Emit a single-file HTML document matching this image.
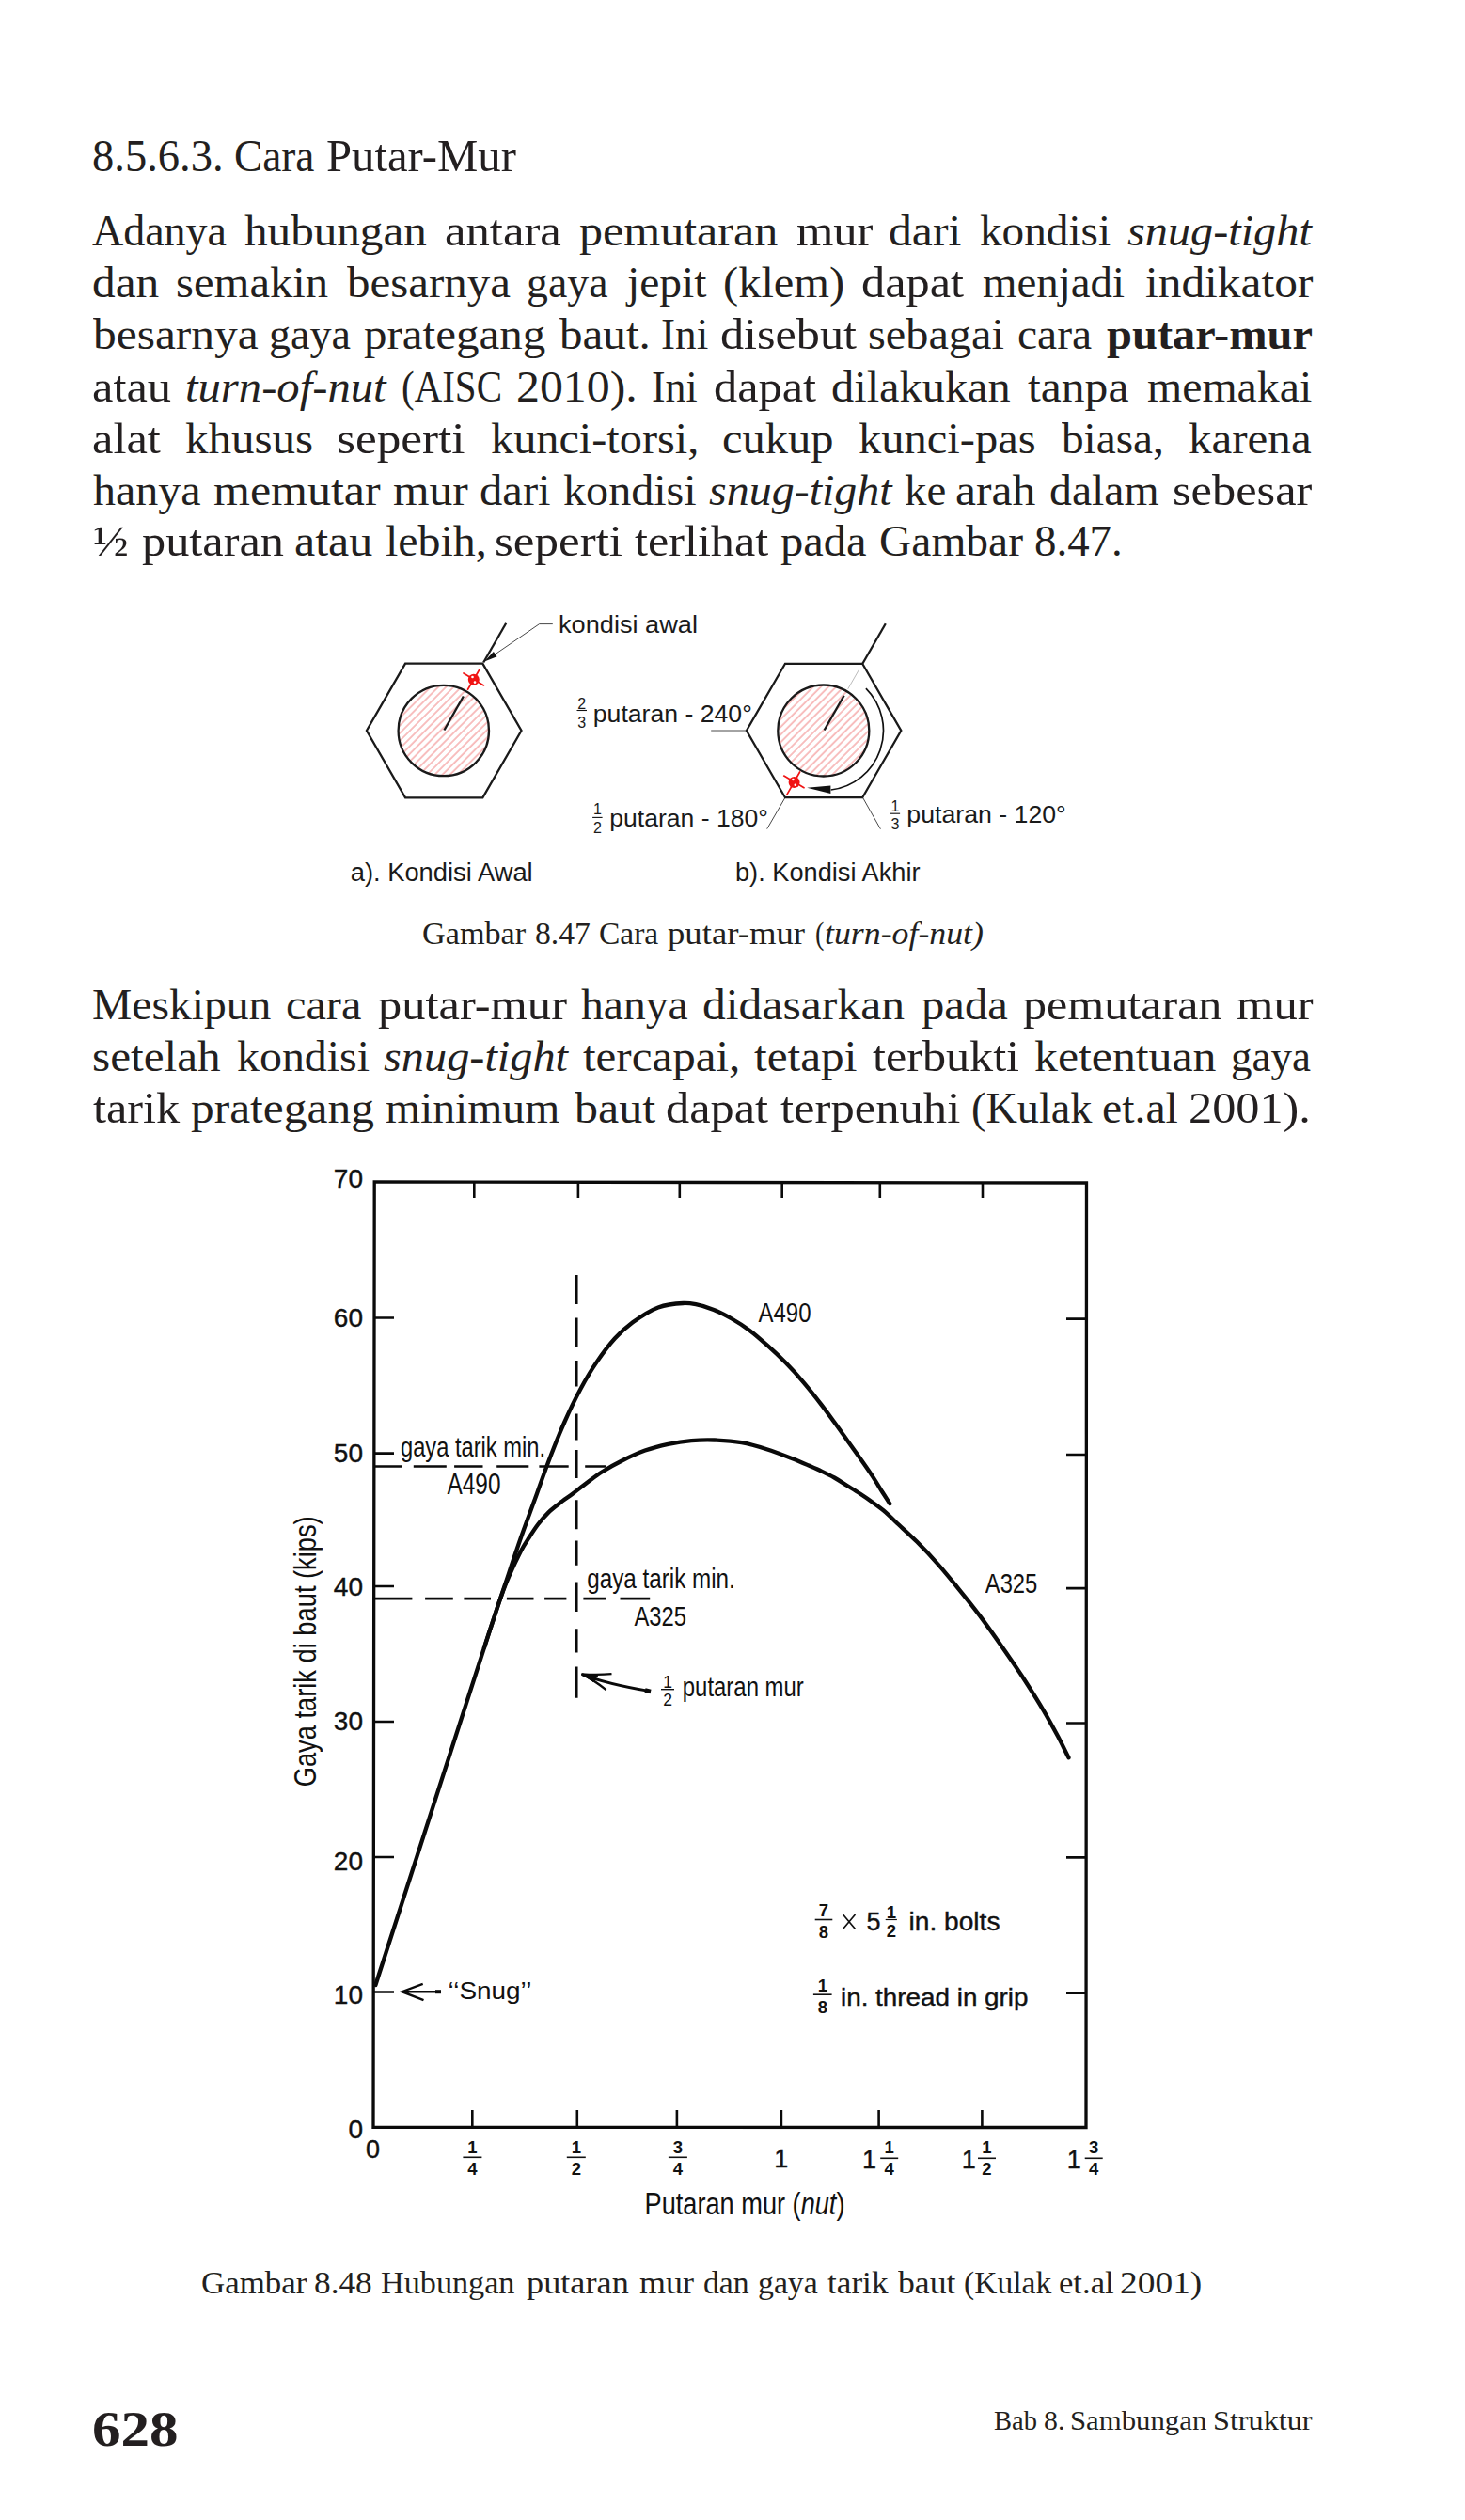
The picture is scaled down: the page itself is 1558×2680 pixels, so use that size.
<!DOCTYPE html>
<html>
<head>
<meta charset="utf-8">
<style>
html,body{margin:0;padding:0;background:#fff;}
body{width:1558px;height:2680px;position:relative;overflow:hidden;color:#231f20;}
.ln{position:absolute;left:99px;font-family:"Liberation Serif",serif;font-size:46px;line-height:56px;white-space:nowrap;transform-origin:0 0;}
.j{width:1217.84px;text-align:justify;text-align-last:justify;transform:scaleX(1.065);}
.n{transform:scaleX(1.065);}
.wl{position:absolute;left:0;width:1558px;height:56px;font-family:"Liberation Serif",serif;font-size:46px;line-height:56px;}
.wl span{position:absolute;top:0;white-space:nowrap;transform-origin:0 0;}
.cap{position:absolute;font-family:"Liberation Serif",serif;font-size:33px;line-height:40px;white-space:nowrap;transform-origin:0 0;}
svg{position:absolute;left:0;top:0;}
svg text{font-family:"Liberation Sans",sans-serif;}
</style>
</head>
<body>
<div class="wl" style="top:137.7px;font-size:47.5px"><span style="left:98.0px;transform:scaleX(0.9792)">8.5.6.3.</span><span style="left:248.8px;transform:scaleX(0.9524)">Cara</span><span style="left:347.2px;transform:scaleX(1.0252)">Putar-Mur</span></div>
<div class="wl" style="top:218px"><span style="left:97.9px;transform:scaleX(0.9997)">Adanya</span><span style="left:260.1px;transform:scaleX(1.0683)">hubungan</span><span style="left:473.1px;transform:scaleX(1.1025)">antara</span><span style="left:616.1px;transform:scaleX(1.0879)">pemutaran</span><span style="left:846.7px;transform:scaleX(1.0992)">mur</span><span style="left:944.7px;transform:scaleX(1.0798)">dari</span><span style="left:1042.0px;transform:scaleX(1.0261)">kondisi</span><span style="left:1199.3px;transform:scaleX(1.0496)"><i>snug-tight</i></span></div>
<div class="wl" style="top:273.4px"><span style="left:97.5px;transform:scaleX(1.0731)">dan</span><span style="left:186.9px;transform:scaleX(1.0578)">semakin</span><span style="left:369.3px;transform:scaleX(1.0647)">besarnya</span><span style="left:560.4px;transform:scaleX(0.9963)">gaya</span><span style="left:666.7px;transform:scaleX(1.0336)">jepit</span><span style="left:768.5px;transform:scaleX(1.0537)">(klem)</span><span style="left:915.9px;transform:scaleX(1.0938)">dapat</span><span style="left:1045.4px;transform:scaleX(1.0197)">menjadi</span><span style="left:1218.4px;transform:scaleX(1.0739)">indikator</span></div>
<div class="wl" style="top:328.4px"><span style="left:99.0px;transform:scaleX(1.0751)">besarnya</span><span style="left:286.1px;transform:scaleX(1.0021)">gaya</span><span style="left:386.9px;transform:scaleX(1.0653)">prategang</span><span style="left:594.7px;transform:scaleX(1.0681)">baut.</span><span style="left:703.0px;transform:scaleX(0.9834)">Ini</span><span style="left:766.1px;transform:scaleX(1.0909)">disebut</span><span style="left:922.6px;transform:scaleX(1.0503)">sebagai</span><span style="left:1082.4px;transform:scaleX(1.0339)">cara</span><span style="left:1176.6px;transform:scaleX(1.0539)"><b>putar-mur</b></span></div>
<div class="wl" style="top:383.6px"><span style="left:97.9px;transform:scaleX(1.0964)">atau</span><span style="left:197.2px;transform:scaleX(1.0582)"><i>turn-of-nut</i></span><span style="left:427.3px;transform:scaleX(0.8906)">(AISC</span><span style="left:548.6px;transform:scaleX(1.0838)">2010).</span><span style="left:693.3px;transform:scaleX(0.9530)">Ini</span><span style="left:759.3px;transform:scaleX(1.0938)">dapat</span><span style="left:884.3px;transform:scaleX(1.0516)">dilakukan</span><span style="left:1093.0px;transform:scaleX(1.0787)">tanpa</span><span style="left:1219.6px;transform:scaleX(1.0393)">memakai</span></div>
<div class="wl" style="top:438.8px"><span style="left:97.5px;transform:scaleX(1.0973)">alat</span><span style="left:197.0px;transform:scaleX(1.0654)">khusus</span><span style="left:358.1px;transform:scaleX(1.1139)">seperti</span><span style="left:521.5px;transform:scaleX(1.0495)">kunci-torsi,</span><span style="left:767.6px;transform:scaleX(1.0533)">cukup</span><span style="left:912.5px;transform:scaleX(1.0549)">kunci-pas</span><span style="left:1128.8px;transform:scaleX(1.0269)">biasa,</span><span style="left:1263.8px;transform:scaleX(1.0659)">karena</span></div>
<div class="wl" style="top:494px"><span style="left:98.6px;transform:scaleX(1.0437)">hanya</span><span style="left:227.0px;transform:scaleX(1.0866)">memutar</span><span style="left:417.9px;transform:scaleX(1.0775)">mur</span><span style="left:509.8px;transform:scaleX(1.0569)">dari</span><span style="left:599.2px;transform:scaleX(1.0462)">kondisi</span><span style="left:753.7px;transform:scaleX(1.0432)"><i>snug-tight</i></span><span style="left:962.0px;transform:scaleX(1.0190)">ke</span><span style="left:1016.1px;transform:scaleX(1.0774)">arah</span><span style="left:1115.9px;transform:scaleX(1.0384)">dalam</span><span style="left:1247.2px;transform:scaleX(1.0958)">sebesar</span></div>
<div class="wl" style="top:548.1px"><span style="left:99.0px;transform:scaleX(1.0938)">½</span><span style="left:150.8px;transform:scaleX(1.0947)">putaran</span><span style="left:313.1px;transform:scaleX(1.0871)">atau</span><span style="left:410.1px;transform:scaleX(1.0418)">lebih,</span><span style="left:526.2px;transform:scaleX(1.1090)">seperti</span><span style="left:675.3px;transform:scaleX(1.0912)">terlihat</span><span style="left:830.1px;transform:scaleX(1.0553)">pada</span><span style="left:935.2px;transform:scaleX(1.0325)">Gambar</span><span style="left:1100.3px;transform:scaleX(1.0192)">8.47.</span></div>
<div class="wl" style="top:1041.1px"><span style="left:98.0px;transform:scaleX(1.0339)">Meskipun</span><span style="left:304.1px;transform:scaleX(1.0499)">cara</span><span style="left:402.0px;transform:scaleX(1.0980)">putar-mur</span><span style="left:618.4px;transform:scaleX(1.0355)">hanya</span><span style="left:746.9px;transform:scaleX(1.0794)">didasarkan</span><span style="left:980.1px;transform:scaleX(1.0577)">pada</span><span style="left:1088.2px;transform:scaleX(1.0890)">pemutaran</span><span style="left:1315.2px;transform:scaleX(1.1006)">mur</span></div>
<div class="wl" style="top:1096.2px"><span style="left:97.5px;transform:scaleX(1.0701)">setelah</span><span style="left:251.7px;transform:scaleX(1.0410)">kondisi</span><span style="left:407.6px;transform:scaleX(1.0507)"><i>snug-tight</i></span><span style="left:619.5px;transform:scaleX(1.0650)">tercapai,</span><span style="left:801.6px;transform:scaleX(1.0711)">tetapi</span><span style="left:928.2px;transform:scaleX(1.0907)">terbukti</span><span style="left:1100.2px;transform:scaleX(1.0821)">ketentuan</span><span style="left:1309.4px;transform:scaleX(0.9787)">gaya</span></div>
<div class="wl" style="top:1150.7px"><span style="left:98.6px;transform:scaleX(1.0950)">tarik</span><span style="left:202.6px;transform:scaleX(1.0747)">prategang</span><span style="left:410.1px;transform:scaleX(1.0351)">minimum</span><span style="left:610.6px;transform:scaleX(1.0867)">baut</span><span style="left:707.9px;transform:scaleX(1.0938)">dapat</span><span style="left:829.5px;transform:scaleX(1.1010)">terpenuhi</span><span style="left:1032.6px;transform:scaleX(1.0061)">(Kulak</span><span style="left:1172.0px;transform:scaleX(1.0379)">et.al</span><span style="left:1263.5px;transform:scaleX(1.0926)">2001).</span></div>
<div class="wl" style="top:973px;font-size:33px;line-height:40px"><span style="left:449.1px;transform:scaleX(1.0367)">Gambar</span><span style="left:568.6px;transform:scaleX(1.0210)">8.47</span><span style="left:637.0px;transform:scaleX(1.0151)">Cara</span><span style="left:710.3px;transform:scaleX(1.1124)">putar-mur</span><span style="left:867.1px;transform:scaleX(0.8596)">(</span><span style="left:877.3px;transform:scaleX(1.0845)"><i>turn-of-nut)</i></span></div>
<div class="wl" style="top:2408px;font-size:33px;line-height:40px"><span style="left:214.4px;transform:scaleX(1.0576)">Gambar</span><span style="left:334.4px;transform:scaleX(1.0690)">8.48</span><span style="left:404.5px;transform:scaleX(1.0361)">Hubungan</span><span style="left:560.2px;transform:scaleX(1.0995)">putaran</span><span style="left:680.1px;transform:scaleX(1.0901)">mur</span><span style="left:748.2px;transform:scaleX(1.0207)">dan</span><span style="left:805.9px;transform:scaleX(1.0232)">gaya</span><span style="left:880.0px;transform:scaleX(1.0666)">tarik</span><span style="left:954.6px;transform:scaleX(1.0812)">baut</span><span style="left:1024.8px;transform:scaleX(1.0166)">(Kulak</span><span style="left:1125.8px;transform:scaleX(1.0494)">et.al</span><span style="left:1190.9px;transform:scaleX(1.1339)">2001)</span></div>
<div class="cap" style="left:97.5px;top:2553px;font-size:53px;font-weight:bold;line-height:60px;transform:scaleX(1.152)">628</div>
<div class="wl" style="top:2554px;font-size:29px;line-height:40px"><span style="left:1056.7px;transform:scaleX(0.9834)">Bab</span><span style="left:1110.3px;transform:scaleX(1.0285)">8.</span><span style="left:1137.6px;transform:scaleX(1.0612)">Sambungan</span><span style="left:1289.9px;transform:scaleX(1.1101)">Struktur</span></div>
<svg width="1558" height="2680" viewBox="0 0 1558 2680">
<defs><pattern id="hatch" width="5.75" height="6" patternUnits="userSpaceOnUse" patternTransform="rotate(45)"><line x1="1" y1="0" x2="1" y2="6" stroke="#f6abab" stroke-width="1.5"/></pattern></defs>
<g fill="none" stroke="#1a1a1a" stroke-width="2.3">
<polygon points="389.9,777 431.05,705.7 513.35,705.7 554.5,777 513.35,848.3 431.05,848.3"/>
<circle cx="471.8" cy="777" r="48.2" fill="url(#hatch)"/>
<line x1="472.4" y1="776.5" x2="492.9" y2="740.5"/>
<line x1="514.2" y1="704.5" x2="538.2" y2="662.7"/>
<polygon points="793.9,777 835,705.8 917.2,705.8 958.3,777 917.2,848.2 835,848.2"/>
<circle cx="875.8" cy="777" r="48.5" fill="url(#hatch)"/>
<line x1="876.6" y1="776.5" x2="897.6" y2="739.7"/>
<line x1="917.5" y1="705.5" x2="941.8" y2="663.2"/>
</g>
<g fill="none" stroke="#333" stroke-width="0.9">
<polyline points="587.8,663.6 573.6,663.6 520,700.3"/>
<line x1="756.2" y1="777" x2="793.9" y2="777"/>
<line x1="834.5" y1="849" x2="815.7" y2="881.6"/>
<line x1="917.7" y1="848.5" x2="936.4" y2="881.7"/>
</g>
<line x1="913.4" y1="712.4" x2="901.7" y2="732.8" stroke="#bbb" stroke-width="1"/>
<polygon points="515.1,703.6 528.5,698.3 524.9,693.1" fill="#111"/>
<path d="M920.9 732.1 A63.5 63.5 0 0 1 883.7 840" fill="none" stroke="#111" stroke-width="1.7"/>
<polygon points="858.2,837.7 883.4,835.6 883.4,844.1" fill="#111"/>
<g stroke="#f01414" stroke-width="1.7" stroke-linecap="round">
<line x1="493" y1="716" x2="514.5" y2="728.9"/><line x1="510.1" y1="711.8" x2="497.5" y2="733.3"/>
<line x1="833.7" y1="825.1" x2="855" y2="837.7"/><line x1="850.6" y1="821" x2="836.7" y2="845.3"/>
</g>
<circle cx="503.8" cy="722.8" r="6" fill="#f01414"/><circle cx="844.6" cy="831.9" r="6" fill="#f01414"/>
<circle cx="502.5" cy="720" r="1.3" fill="#fff"/><circle cx="505" cy="725.6" r="1.3" fill="#fff"/>
<circle cx="843.4" cy="829" r="1.3" fill="#fff"/><circle cx="845.8" cy="834.7" r="1.3" fill="#fff"/>
<g fill="#1a1a1a">
<text x="594" y="673" font-size="25.5" textLength="148" lengthAdjust="spacingAndGlyphs">kondisi awal</text>
<text x="630.8" y="767.8" font-size="26.5" textLength="169" lengthAdjust="spacingAndGlyphs">putaran - 240°</text>
<text x="648.3" y="879" font-size="26.5" textLength="168.5" lengthAdjust="spacingAndGlyphs">putaran - 180°</text>
<text x="964.3" y="875" font-size="26.5" textLength="169.5" lengthAdjust="spacingAndGlyphs">putaran - 120°</text>
<text x="372.7" y="936.5" font-size="27" textLength="194" lengthAdjust="spacingAndGlyphs">a). Kondisi Awal</text>
<text x="782" y="936.5" font-size="27" textLength="196.5" lengthAdjust="spacingAndGlyphs">b). Kondisi Akhir</text>

<text x="618.8" y="754.3" font-size="16" text-anchor="middle" style="">2</text><line x1="613.5" y1="755.5" x2="624.0" y2="755.5" stroke="#111" stroke-width="1.1"/><text x="618.8" y="773.6" font-size="16" text-anchor="middle" style="">3</text>
<text x="635.4" y="866.2" font-size="16" text-anchor="middle" style="">1</text><line x1="630.1" y1="869.4" x2="640.6" y2="869.4" stroke="#111" stroke-width="1.1"/><text x="635.4" y="885.6" font-size="16" text-anchor="middle" style="">2</text>
<text x="951.9" y="862.8" font-size="16" text-anchor="middle" style="">1</text><line x1="946.6" y1="865.2" x2="957.1" y2="865.2" stroke="#111" stroke-width="1.1"/><text x="951.9" y="882" font-size="16" text-anchor="middle" style="">3</text>
</g>
<g fill="none" stroke="#0a0a0a" stroke-linecap="butt">
<polygon points="398.2,1257 1155.5,1258 1155,2262.5 397,2262.4" stroke-width="3.3"/>
<path d="M504.3 1257V1274 M614.9 1257V1274 M722.8 1257V1274 M831.7 1257V1274 M935.8 1257V1274 M1045 1257V1274 M502.3 2262V2244 M613.8 2262V2244 M719.9 2262V2244 M830.9 2262V2244 M934.6 2262V2244 M1044.4 2262V2244 M397 1401.5H419 M397 1545.6H419 M397 1687H419 M397 1831H419 M397 1975H419 M397 2118.5H419 M1155 1402.6H1134 M1155 1547H1134 M1155 1689.1H1134 M1155 1832.5H1134 M1155 1975.4H1134 M1155 2119.8H1134" stroke-width="2.6"/>
<path d="M398 1559.5H427 M439.8 1559.5H474.8 M483.1 1559.5H513.5 M528.2 1559.5H562.3 M573.4 1559.5H604.7 M622.2 1559.5H644.5 M398.2 1700.1H438.4 M452.1 1700.1H481.8 M493.4 1700.1H522 M538.9 1700.1H567.5 M579.1 1700.1H602.4 M620.4 1700.1H644.7 M659.5 1700.1H691.2 M613.2 1356.1V1387.1 M613.2 1401.5V1432.5 M613.2 1446.9V1474.4 M613.2 1503.6V1531.6 M613.2 1542.1V1572.1 M613.2 1595.2V1626.3 M613.2 1638.6V1664.8 M613.2 1682.5V1714.1 M613.2 1732.3V1757.5 M613.2 1772.5V1805.7" stroke-width="2.7"/>
<path d="M399.4 2111 L521 1733.6 C526.7 1716.3 531.5 1701.8 537.0 1685.5 C542.7 1668.5 548.7 1650.2 554.6 1633.5 C560.1 1617.9 566.0 1602.4 571.0 1588.5 C575.3 1576.5 578.6 1566.8 583.1 1555.0 C588.2 1541.6 594.3 1525.9 600.3 1512.5 C605.8 1500.0 611.5 1488.1 617.5 1477.0 C623.0 1466.8 628.5 1457.4 634.7 1448.4 C640.7 1439.6 647.1 1430.8 653.8 1423.5 C659.9 1416.9 665.7 1411.6 672.9 1406.3 C680.9 1400.5 690.7 1393.8 700.0 1390.4 C708.6 1387.3 719.2 1386.3 726.6 1386.0 C731.8 1385.8 735.2 1386.3 740.0 1387.2 C745.9 1388.3 752.8 1390.4 759.1 1392.9 C765.6 1395.5 771.9 1398.9 778.2 1402.5 C784.7 1406.2 791.1 1410.3 797.3 1414.9 C803.9 1419.8 810.2 1425.5 816.5 1431.2 C823.0 1437.0 829.3 1442.9 835.6 1449.3 C842.1 1455.9 848.5 1463.0 854.7 1470.3 C861.2 1477.9 868.0 1486.6 873.7 1494.1 C878.7 1500.6 882.8 1506.4 887.3 1512.6 C891.9 1518.9 896.4 1525.3 901.0 1531.7 C905.5 1538.1 910.1 1544.4 914.6 1550.8 C919.2 1557.3 924.1 1564.3 928.3 1570.6 C932.0 1576.3 935.3 1581.9 938.5 1587.0 C941.3 1591.4 943.7 1595.1 946.3 1599.2" stroke-width="4.3" stroke-linejoin="round" stroke-linecap="round"/>
<path d="M515 1752.2 C519.2 1739.2 522.9 1727.8 526.0 1718.3 C528.3 1711.4 529.9 1706.4 532.0 1700.5 C534.1 1694.6 536.3 1688.6 538.5 1683.0 C540.6 1677.8 542.8 1672.8 545.0 1668.0 C547.0 1663.6 549.0 1659.5 551.0 1655.5 C552.8 1651.8 554.5 1648.4 556.5 1645.0 C558.5 1641.6 560.5 1638.6 562.8 1635.0 C565.6 1630.7 568.9 1625.4 572.3 1621.0 C575.7 1616.6 579.4 1612.3 583.2 1608.6 C586.9 1605.0 590.7 1602.2 594.8 1599.0 C599.1 1595.6 603.8 1592.5 608.5 1589.0 C613.5 1585.2 618.8 1580.9 624.0 1577.0 C629.3 1573.1 634.2 1569.2 640.0 1565.5 C646.5 1561.4 653.9 1557.2 661.4 1553.5 C669.2 1549.6 677.7 1545.6 686.0 1542.6 C694.1 1539.7 702.3 1537.6 710.6 1535.8 C718.7 1534.1 727.0 1532.8 735.2 1532.1 C743.4 1531.4 751.2 1531.2 759.7 1531.5 C769.0 1531.8 779.3 1532.5 788.7 1534.2 C797.9 1535.8 806.6 1538.5 815.4 1541.3 C824.3 1544.1 834.0 1547.9 842.0 1551.0 C848.6 1553.6 854.4 1556.1 860.0 1558.5 C864.9 1560.6 869.2 1562.4 873.7 1564.6 C878.3 1566.8 882.8 1569.0 887.3 1571.5 C891.9 1574.1 896.4 1577.2 901.0 1580.0 C905.5 1582.8 910.0 1585.5 914.6 1588.5 C919.4 1591.6 924.4 1595.1 929.0 1598.5 C933.5 1601.7 937.9 1604.9 941.9 1608.3 C945.7 1611.6 948.3 1614.5 952.5 1618.5 C958.6 1624.3 967.6 1632.2 975.0 1639.6 C982.6 1647.2 990.2 1655.2 997.6 1663.6 C1005.2 1672.2 1012.7 1681.4 1020.1 1690.6 C1027.7 1699.9 1035.2 1709.3 1042.6 1719.1 C1050.2 1729.3 1057.7 1740.0 1065.2 1750.7 C1072.8 1761.5 1080.3 1772.4 1087.7 1783.7 C1095.3 1795.4 1103.6 1808.6 1110.2 1819.8 C1115.8 1829.4 1120.6 1838.2 1125.2 1846.8 C1129.3 1854.6 1132.7 1861.8 1136.5 1869.3" stroke-width="4.3" stroke-linejoin="round" stroke-linecap="round"/>
<path d="M468.5 2118.2H428 M449.7 2109.9 L427.5 2118.2 L450.5 2127.2" stroke-width="2.4"/>
<path d="M463 2118.2H469" stroke-width="4"/>
<path d="M691.6 1798.7 C670 1795 640 1789 619 1780.6" stroke-width="2.8"/>
<path d="M650.5 1780.2 Q636 1781.5 618.5 1780.4 Q632 1787 644.6 1797.1" stroke-width="2.3"/>
<path d="M618.5 1780.4 L636 1781.6 L631 1788.5 Z" fill="#0a0a0a" stroke-width="1"/>
<path d="M686 1797.5 L692 1799" stroke-width="4.5"/>
</g>
<g fill="#111">
<text x="386" y="1263.1" font-size="28" text-anchor="end" stroke="#111" stroke-width="0.4">70</text>
<text x="386" y="1410.5" font-size="28" text-anchor="end" stroke="#111" stroke-width="0.4">60</text>
<text x="386" y="1555" font-size="28" text-anchor="end" stroke="#111" stroke-width="0.4">50</text>
<text x="386" y="1697" font-size="28" text-anchor="end" stroke="#111" stroke-width="0.4">40</text>
<text x="386" y="1840.3" font-size="28" text-anchor="end" stroke="#111" stroke-width="0.4">30</text>
<text x="386" y="1988.5" font-size="28" text-anchor="end" stroke="#111" stroke-width="0.4">20</text>
<text x="386" y="2131" font-size="28" text-anchor="end" stroke="#111" stroke-width="0.4">10</text>
<text x="386" y="2274.2" font-size="28" text-anchor="end" stroke="#111" stroke-width="0.4">0</text>
<text x="396.6" y="2294.5" font-size="27" text-anchor="middle" stroke="#111" stroke-width="0.4">0</text>
<text x="830.7" y="2305" font-size="27" text-anchor="middle" stroke="#111" stroke-width="0.4">1</text>
<text x="502.4" y="2289.5" font-size="18.5" text-anchor="middle" style="font-weight:bold;">1</text><line x1="492.4" y1="2294.3" x2="512.4" y2="2294.3" stroke="#111" stroke-width="1.6"/><text x="502.4" y="2313" font-size="18.5" text-anchor="middle" style="font-weight:bold;">4</text>
<text x="612.8" y="2289.5" font-size="18.5" text-anchor="middle" style="font-weight:bold;">1</text><line x1="602.8" y1="2294.3" x2="622.8" y2="2294.3" stroke="#111" stroke-width="1.6"/><text x="612.8" y="2313" font-size="18.5" text-anchor="middle" style="font-weight:bold;">2</text>
<text x="720.9" y="2289.5" font-size="18.5" text-anchor="middle" style="font-weight:bold;">3</text><line x1="710.9" y1="2294.3" x2="730.9" y2="2294.3" stroke="#111" stroke-width="1.6"/><text x="720.9" y="2313" font-size="18.5" text-anchor="middle" style="font-weight:bold;">4</text>
<text x="924.5" y="2305.5" font-size="27" text-anchor="middle" stroke="#111" stroke-width="0.4">1</text>
<text x="945.7" y="2289.5" font-size="18.5" text-anchor="middle" style="font-weight:bold;">1</text><line x1="936.2" y1="2295.3" x2="955.2" y2="2295.3" stroke="#111" stroke-width="1.6"/><text x="945.7" y="2313" font-size="18.5" text-anchor="middle" style="font-weight:bold;">4</text>
<text x="1030.3" y="2305.5" font-size="27" text-anchor="middle" stroke="#111" stroke-width="0.4">1</text>
<text x="1049.5" y="2289.5" font-size="18.5" text-anchor="middle" style="font-weight:bold;">1</text><line x1="1040.0" y1="2295.3" x2="1059.0" y2="2295.3" stroke="#111" stroke-width="1.6"/><text x="1049.5" y="2313" font-size="18.5" text-anchor="middle" style="font-weight:bold;">2</text>
<text x="1142.3" y="2305.5" font-size="27" text-anchor="middle" stroke="#111" stroke-width="0.4">1</text>
<text x="1163.2" y="2289.5" font-size="18.5" text-anchor="middle" style="font-weight:bold;">3</text><line x1="1153.7" y1="2295.3" x2="1172.7" y2="2295.3" stroke="#111" stroke-width="1.6"/><text x="1163.2" y="2313" font-size="18.5" text-anchor="middle" style="font-weight:bold;">4</text>
<text x="426" y="1548.5" font-size="29.5" textLength="154" lengthAdjust="spacingAndGlyphs">gaya tarik min.</text>
<text x="475.5" y="1588.8" font-size="31.3" textLength="57" lengthAdjust="spacingAndGlyphs">A490</text>
<text x="624.3" y="1689.1" font-size="29.5" textLength="157.5" lengthAdjust="spacingAndGlyphs">gaya tarik min.</text>
<text x="674.5" y="1728.5" font-size="30.4" textLength="55.5" lengthAdjust="spacingAndGlyphs">A325</text>
<text x="806.5" y="1406.4" font-size="30.4" textLength="56" lengthAdjust="spacingAndGlyphs">A490</text>
<text x="1047.8" y="1694.4" font-size="30.4" textLength="55.5" lengthAdjust="spacingAndGlyphs">A325</text>
<text x="710" y="1794.5" font-size="17.5" text-anchor="middle" style="">1</text><line x1="703.0" y1="1796.7" x2="717.0" y2="1796.7" stroke="#111" stroke-width="1.4"/><text x="710" y="1814" font-size="17.5" text-anchor="middle" style="">2</text>
<text x="725.8" y="1803.8" font-size="29.5" textLength="129" lengthAdjust="spacingAndGlyphs">putaran mur</text>
<text x="685.5" y="2354.5" font-size="32.5" textLength="213" lengthAdjust="spacingAndGlyphs">Putaran mur (<tspan font-style="italic">nut</tspan>)</text>
<text transform="translate(335.6 1900.3) rotate(-90)" x="0" y="0" font-size="33.5" textLength="288" lengthAdjust="spacingAndGlyphs">Gaya tarik di baut (kips)</text>
<text x="476.5" y="2125.6" font-size="26" textLength="89" lengthAdjust="spacingAndGlyphs">‘‘Snug’’</text>
<text x="876" y="2037.9" font-size="18.5" text-anchor="middle" style="font-weight:bold;">7</text><line x1="866.7" y1="2041.5" x2="885.3" y2="2041.5" stroke="#111" stroke-width="1.6"/><text x="876" y="2060.9" font-size="18.5" text-anchor="middle" style="font-weight:bold;">8</text>
<path d="M896.5 2036L909.5 2051.5M909.5 2036L896.5 2051.5" stroke="#111" stroke-width="1.7" fill="none"/>
<text x="921.5" y="2053" font-size="27" stroke="#111" stroke-width="0.4">5</text>
<text x="947.8" y="2040" font-size="18.5" text-anchor="middle" style="font-weight:bold;">1</text><line x1="941.7" y1="2041.5" x2="953.9" y2="2041.5" stroke="#111" stroke-width="1.2"/><text x="947.8" y="2060.2" font-size="18.5" text-anchor="middle" style="font-weight:bold;">2</text>
<text x="966.5" y="2053" font-size="27" textLength="97" lengthAdjust="spacingAndGlyphs" stroke="#111" stroke-width="0.4">in. bolts</text>
<text x="874.8" y="2117.9" font-size="18.5" text-anchor="middle" style="font-weight:bold;">1</text><line x1="864.9" y1="2121.2" x2="884.6" y2="2121.2" stroke="#111" stroke-width="1.6"/><text x="874.8" y="2140.9" font-size="18.5" text-anchor="middle" style="font-weight:bold;">8</text>
<text x="894" y="2133" font-size="26.5" textLength="199.5" lengthAdjust="spacingAndGlyphs" stroke="#111" stroke-width="0.4">in. thread in grip</text>
</g>
</svg>
</body>
</html>
